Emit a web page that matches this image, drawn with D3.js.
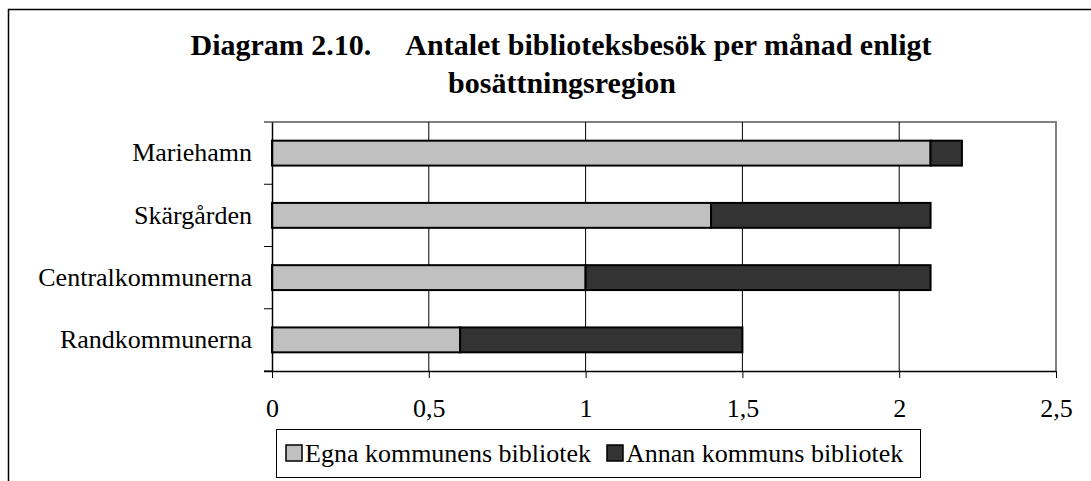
<!DOCTYPE html>
<html>
<head>
<meta charset="utf-8">
<script src="https://cdn.jsdelivr.net/npm/d3@7"></script>
<style>
  body { margin: 0; background: #fff; }
  svg { display: block; font-family: "Liberation Serif", "Times New Roman", serif; }
</style>
</head>
<body>
<div id="chart"></div>
<script>
// data
var regions = ["Mariehamn", "Skärgården", "Centralkommunerna", "Randkommunerna"];
var egna = [2.1, 1.4, 1.0, 0.6];   // Egna kommunens bibliotek
var annan = [0.1, 0.7, 1.1, 0.9];  // Annan kommuns bibliotek
var seriesNames = ["Egna kommunens bibliotek", "Annan kommuns bibliotek"];
var xTicks = [0, 0.5, 1, 1.5, 2, 2.5];

var w = 1091, h = 481;
var colors = ["#c0c0c0", "#333333"];
var labelSize = 26;

var svg = d3.select("#chart").append("svg")
    .attr("width", w)
    .attr("height", h);

// outer frame (right and bottom edges run off the picture)
svg.append("rect")
    .attr("x", 8.5).attr("y", 9.5)
    .attr("width", 1200).attr("height", 600)
    .attr("fill", "none")
    .attr("stroke", "#000")
    .attr("stroke-width", 1.5);

// title
var title = svg.append("text")
    .attr("text-anchor", "middle")
    .attr("font-weight", "bold")
    .attr("font-size", 30)
    .attr("fill", "#000");
title.append("tspan")
    .attr("x", 561).attr("y", 55)
    .text("Diagram 2.10.");
title.append("tspan")
    .attr("dx", 34)
    .text("Antalet biblioteksbesök per månad enligt");
svg.append("text")
    .attr("x", 562).attr("y", 93)
    .attr("text-anchor", "middle")
    .attr("font-weight", "bold")
    .attr("font-size", 30)
    .text("bosättningsregion");

// scales
var x = d3.scaleLinear().domain([0, 2.5]).range([272, 1056]);
var y = d3.scaleBand().domain(regions).range([122, 371])
    .paddingInner(0.6).paddingOuter(0.3);

// plot frame top + right in grey
svg.append("path")
    .attr("d", "M" + x(0) + "," + (y.range()[0]) + "H" + x(2.5) + "V" + y.range()[1])
    .attr("fill", "none")
    .attr("stroke", "#808080")
    .attr("stroke-width", 2);

// vertical gridlines
svg.append("g").selectAll("line")
    .data(xTicks.filter(function(d) { return d > 0 && d < 2.5; }))
    .enter().append("line")
    .attr("x1", function(d) { return x(d); })
    .attr("x2", function(d) { return x(d); })
    .attr("y1", 122).attr("y2", 371)
    .attr("stroke", "#000")
    .attr("stroke-width", 1);

// stacked bars
var rows = regions.map(function(r, i) { return { region: r, egna: egna[i], annan: annan[i] }; });
var stack = d3.stack().keys(["egna", "annan"])(rows);

svg.append("g").selectAll("g")
    .data(stack)
    .enter().append("g")
    .attr("fill", function(d, i) { return colors[i]; })
    .selectAll("rect")
    .data(function(d) { return d; })
    .enter().append("rect")
    .attr("x", function(d) { return x(d[0]); })
    .attr("y", function(d) { return y(d.data.region); })
    .attr("width", function(d) { return x(d[1]) - x(d[0]); })
    .attr("height", y.bandwidth())
    .attr("stroke", "#000")
    .attr("stroke-width", 2);

// x axis
var xAxis = svg.append("g")
    .attr("transform", "translate(0," + 371 + ")")
    .call(d3.axisBottom(x)
        .tickValues(xTicks)
        .tickSize(7)
        .tickPadding(21)
        .tickFormat(function(d) { return String(d).replace(".", ","); }));
xAxis.select(".domain").attr("stroke", "#000").attr("stroke-width", 1.5)
    .attr("d", "M264,0.5H" + x(2.5));
xAxis.selectAll(".tick line").attr("stroke", "#000");
xAxis.selectAll("text")
    .attr("font-size", labelSize)
    .attr("font-family", "Liberation Serif, serif")
    .attr("fill", "#000");

// y axis: labels at band centres, ticks at band boundaries
var yAxis = svg.append("g")
    .attr("transform", "translate(" + x(0) + ",0)")
    .call(d3.axisLeft(y).tickSize(0).tickPadding(20));
yAxis.select(".domain").attr("stroke", "#000").attr("stroke-width", 1.5);
yAxis.selectAll("text")
    .attr("font-size", labelSize)
    .attr("font-family", "Liberation Serif, serif")
    .attr("fill", "#000");

var bounds = d3.range(regions.length + 1).map(function(i) { return y.range()[0] + i * y.step(); });
yAxis.selectAll(".bound")
    .data(bounds)
    .enter().append("line")
    .attr("class", "bound")
    .attr("x1", -8).attr("x2", 0)
    .attr("y1", function(d) { return d; })
    .attr("y2", function(d) { return d; })
    .attr("stroke", "#000")
    .attr("stroke-width", 1);

// legend
var legend = svg.append("g");
legend.append("rect")
    .attr("x", 276.5).attr("y", 429.5)
    .attr("width", 644).attr("height", 48)
    .attr("fill", "#fff")
    .attr("stroke", "#000")
    .attr("stroke-width", 1);
var legendX = [286, 607];
var items = legend.selectAll(".item")
    .data(seriesNames)
    .enter().append("g")
    .attr("class", "item")
    .attr("transform", function(d, i) { return "translate(" + legendX[i] + ",445)"; });
items.append("rect")
    .attr("width", 16).attr("height", 16)
    .attr("fill", function(d, i) { return colors[i]; })
    .attr("stroke", "#000")
    .attr("stroke-width", 1.5);
items.append("text")
    .attr("x", 19).attr("y", 16.5)
    .attr("font-size", labelSize)
    .text(function(d) { return d; });
</script>
</body>
</html>
